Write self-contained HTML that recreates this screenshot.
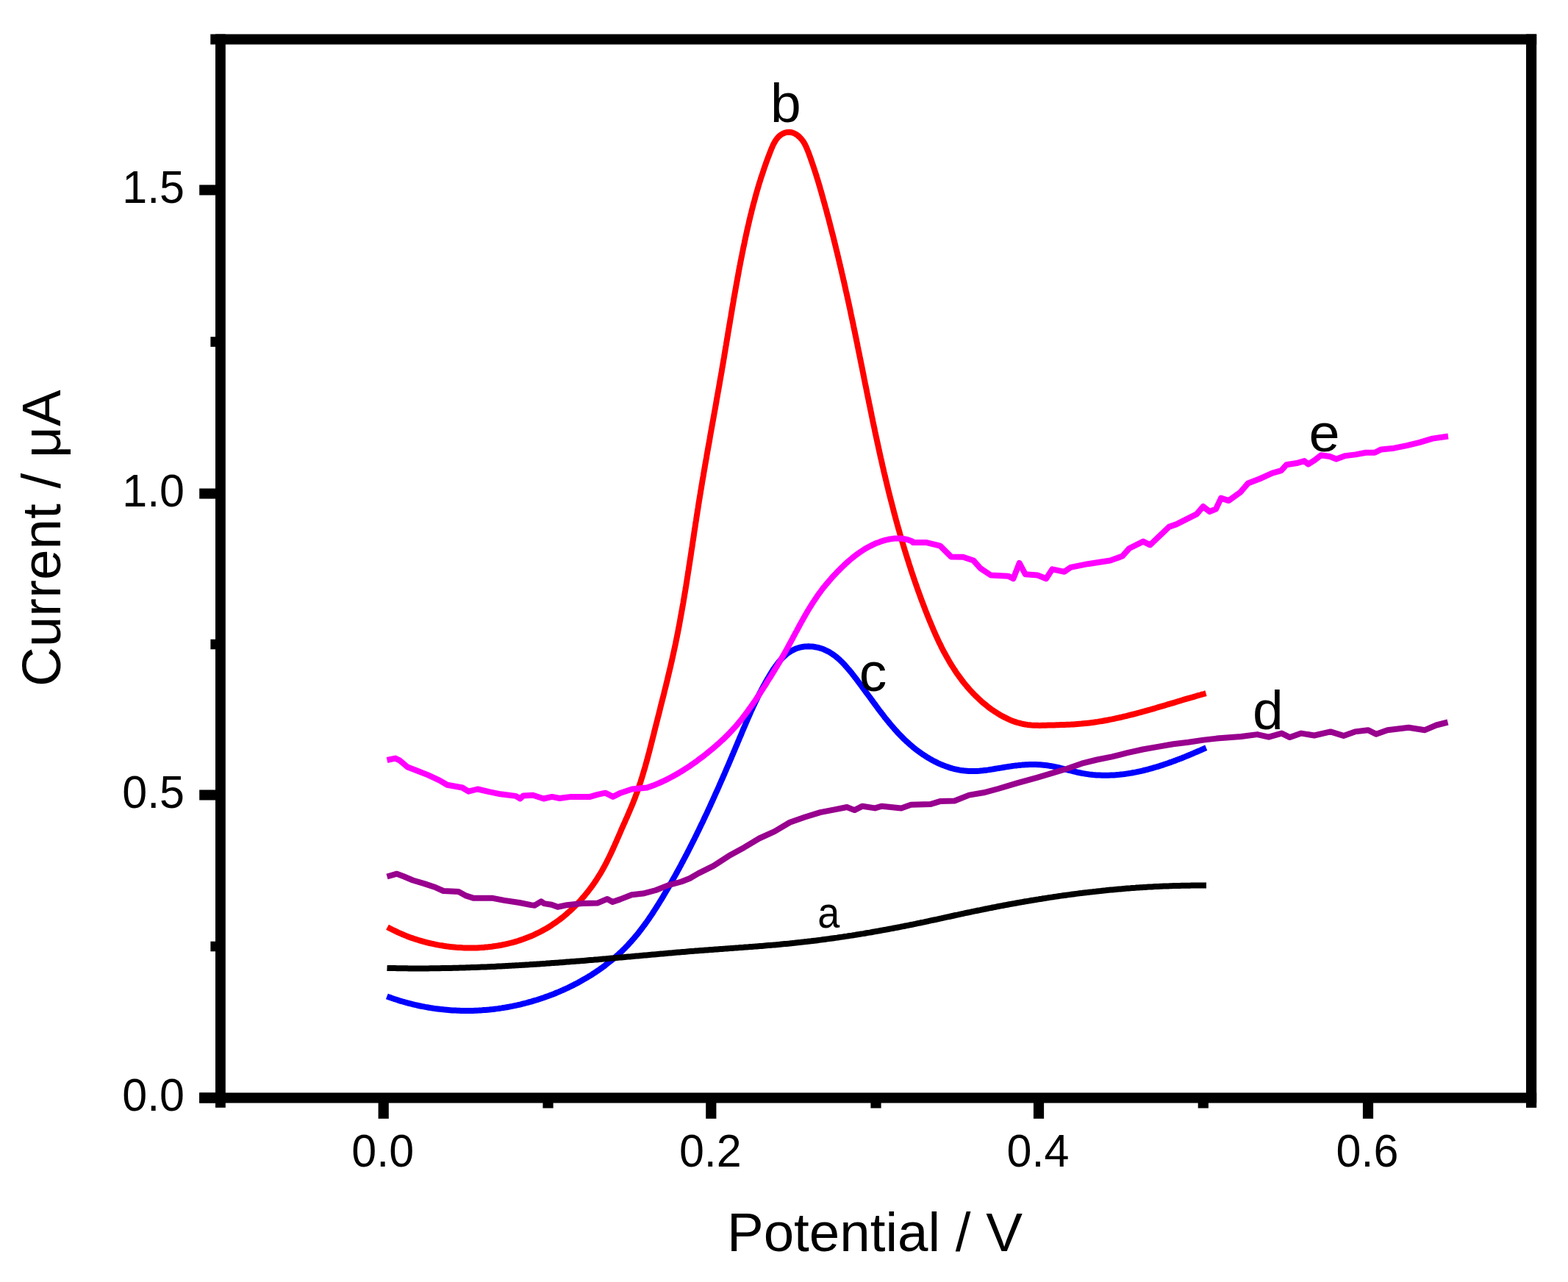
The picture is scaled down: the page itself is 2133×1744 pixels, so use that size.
<!DOCTYPE html>
<html><head><meta charset="utf-8"><title>Current vs Potential</title>
<style>html,body{margin:0;padding:0;background:#fff;width:2133px;height:1744px;overflow:hidden}svg{display:block}</style>
</head><body>
<svg width="2133" height="1744" viewBox="0 0 2133 1744">
<rect width="2133" height="1744" fill="#fff"/>
<g fill="none" stroke-width="8" stroke-linejoin="round" stroke-linecap="butt">
<path stroke="#0000ff" d="M526.3,1355.4 L528.7,1356.3 L531.0,1357.1 L533.4,1358.0 L535.8,1358.8 L538.1,1359.5 L540.5,1360.3 L542.9,1361.1 L545.2,1361.8 L547.6,1362.5 L550.0,1363.2 L552.4,1363.8 L554.7,1364.5 L557.1,1365.1 L559.5,1365.7 L561.9,1366.3 L564.3,1366.9 L566.7,1367.4 L569.1,1368.0 L571.5,1368.5 L573.9,1369.0 L576.3,1369.4 L578.7,1369.9 L581.1,1370.3 L583.5,1370.7 L585.9,1371.1 L588.3,1371.5 L590.7,1371.9 L593.1,1372.2 L595.5,1372.5 L597.9,1372.8 L600.3,1373.1 L602.8,1373.3 L605.2,1373.6 L607.6,1373.8 L610.0,1374.0 L612.4,1374.2 L614.8,1374.4 L617.2,1374.5 L619.7,1374.6 L622.1,1374.7 L624.5,1374.8 L626.9,1374.9 L629.3,1375.0 L631.7,1375.0 L634.1,1375.0 L636.6,1375.0 L639.0,1375.0 L641.4,1374.9 L643.8,1374.9 L646.2,1374.8 L648.6,1374.7 L651.0,1374.6 L653.4,1374.4 L655.8,1374.3 L658.2,1374.1 L660.7,1373.9 L663.1,1373.7 L665.5,1373.5 L667.9,1373.2 L670.3,1373.0 L672.7,1372.7 L675.1,1372.4 L677.4,1372.1 L679.8,1371.7 L682.2,1371.4 L684.6,1371.0 L687.0,1370.6 L689.4,1370.2 L691.8,1369.8 L694.1,1369.3 L696.5,1368.9 L698.9,1368.4 L701.3,1367.9 L703.6,1367.4 L706.0,1366.8 L708.4,1366.3 L710.7,1365.7 L713.1,1365.1 L715.4,1364.5 L717.8,1363.9 L720.1,1363.2 L722.5,1362.6 L724.8,1361.9 L727.1,1361.2 L729.5,1360.5 L731.8,1359.8 L734.1,1359.0 L736.5,1358.2 L738.8,1357.5 L741.1,1356.6 L743.4,1355.8 L745.7,1355.0 L748.0,1354.1 L750.3,1353.3 L752.6,1352.4 L754.9,1351.5 L757.1,1350.5 L759.4,1349.6 L761.7,1348.6 L763.9,1347.6 L766.2,1346.7 L768.4,1345.6 L770.7,1344.6 L772.9,1343.6 L775.1,1342.5 L777.3,1341.4 L779.5,1340.3 L781.7,1339.2 L783.9,1338.1 L786.1,1336.9 L788.2,1335.7 L790.4,1334.5 L792.5,1333.3 L794.7,1332.1 L796.8,1330.9 L798.9,1329.6 L801.0,1328.3 L803.1,1327.1 L805.2,1325.8 L807.2,1324.4 L809.3,1323.1 L811.3,1321.7 L813.4,1320.3 L815.4,1319.0 L817.4,1317.5 L819.4,1316.1 L821.3,1314.7 L823.3,1313.2 L825.2,1311.7 L827.1,1310.2 L829.0,1308.7 L830.9,1307.2 L832.8,1305.6 L834.7,1304.1 L836.5,1302.5 L838.3,1300.9 L840.2,1299.3 L841.9,1297.7 L843.7,1296.0 L845.5,1294.4 L847.2,1292.7 L848.9,1291.0 L850.6,1289.3 L852.3,1287.5 L854.0,1285.8 L855.6,1284.0 L857.2,1282.2 L858.9,1280.4 L860.4,1278.6 L862.0,1276.8 L863.6,1275.0 L865.1,1273.1 L866.7,1271.3 L868.2,1269.4 L869.7,1267.5 L871.2,1265.6 L872.6,1263.7 L874.1,1261.8 L875.5,1259.8 L877.0,1257.9 L878.4,1255.9 L879.8,1254.0 L881.2,1252.0 L882.6,1250.0 L883.9,1248.0 L885.3,1246.0 L886.7,1244.0 L888.0,1242.0 L889.3,1239.9 L890.6,1237.9 L892.0,1235.8 L893.3,1233.8 L894.6,1231.7 L895.8,1229.7 L897.1,1227.6 L898.4,1225.5 L899.7,1223.5 L900.9,1221.4 L902.2,1219.3 L903.4,1217.2 L904.7,1215.1 L905.9,1213.0 L907.1,1210.9 L908.4,1208.8 L909.6,1206.7 L910.8,1204.6 L912.0,1202.5 L913.2,1200.3 L914.4,1198.2 L915.6,1196.1 L916.8,1194.0 L918.0,1191.8 L919.2,1189.7 L920.4,1187.6 L921.5,1185.4 L922.7,1183.3 L923.9,1181.2 L925.0,1179.0 L926.2,1176.9 L927.3,1174.7 L928.5,1172.6 L929.6,1170.4 L930.8,1168.2 L931.9,1166.1 L933.0,1163.9 L934.2,1161.8 L935.3,1159.6 L936.4,1157.4 L937.5,1155.2 L938.6,1153.1 L939.7,1150.9 L940.8,1148.7 L941.9,1146.5 L943.0,1144.4 L944.1,1142.2 L945.2,1140.0 L946.3,1137.8 L947.4,1135.6 L948.4,1133.4 L949.5,1131.2 L950.6,1129.0 L951.6,1126.8 L952.7,1124.6 L953.7,1122.4 L954.8,1120.2 L955.9,1118.0 L956.9,1115.8 L957.9,1113.6 L959.0,1111.4 L960.0,1109.2 L961.1,1107.0 L962.1,1104.8 L963.1,1102.6 L964.1,1100.4 L965.2,1098.2 L966.2,1096.0 L967.2,1093.7 L968.2,1091.5 L969.2,1089.3 L970.2,1087.1 L971.2,1084.9 L972.2,1082.7 L973.2,1080.4 L974.2,1078.2 L975.2,1076.0 L976.2,1073.8 L977.2,1071.5 L978.2,1069.3 L979.1,1067.1 L980.1,1064.9 L981.1,1062.7 L982.1,1060.4 L983.1,1058.2 L984.0,1056.0 L985.0,1053.8 L986.0,1051.5 L986.9,1049.3 L987.9,1047.1 L988.8,1044.8 L989.8,1042.6 L990.8,1040.4 L991.7,1038.2 L992.7,1035.9 L993.6,1033.7 L994.6,1031.5 L995.5,1029.3 L996.4,1027.0 L997.4,1024.8 L998.3,1022.6 L999.3,1020.4 L1000.2,1018.1 L1001.1,1015.9 L1002.1,1013.7 L1003.0,1011.5 L1003.9,1009.3 L1004.9,1007.0 L1005.8,1004.8 L1006.7,1002.6 L1007.7,1000.4 L1008.6,998.2 L1009.5,995.9 L1010.4,993.7 L1011.4,991.5 L1012.3,989.3 L1013.3,987.1 L1014.2,984.9 L1015.1,982.7 L1016.1,980.5 L1017.1,978.2 L1018.0,976.0 L1019.0,973.8 L1020.0,971.6 L1020.9,969.4 L1021.9,967.2 L1022.9,965.0 L1023.9,962.8 L1024.9,960.6 L1026.0,958.4 L1027.0,956.3 L1028.0,954.1 L1029.1,951.9 L1030.2,949.7 L1031.2,947.5 L1032.3,945.3 L1033.4,943.1 L1034.6,941.0 L1035.7,938.8 L1036.8,936.6 L1038.0,934.4 L1039.2,932.3 L1040.4,930.1 L1041.6,927.9 L1042.8,925.8 L1044.0,923.6 L1045.3,921.5 L1046.6,919.3 L1047.9,917.2 L1049.2,915.0 L1050.5,912.9 L1051.9,910.8 L1053.3,908.7 L1054.8,906.6 L1056.3,904.6 L1057.8,902.6 L1059.3,900.7 L1060.9,898.8 L1062.6,896.9 L1064.3,895.2 L1066.1,893.4 L1067.9,891.8 L1069.7,890.2 L1071.6,888.7 L1073.6,887.3 L1075.6,886.0 L1077.6,884.8 L1079.7,883.8 L1081.8,882.8 L1084.0,882.0 L1086.2,881.3 L1088.4,880.7 L1090.7,880.2 L1093.0,879.8 L1095.3,879.6 L1097.6,879.4 L1099.9,879.3 L1102.2,879.4 L1104.5,879.6 L1106.8,879.8 L1109.1,880.2 L1111.4,880.6 L1113.7,881.2 L1116.0,881.8 L1118.2,882.5 L1120.4,883.3 L1122.6,884.3 L1124.7,885.3 L1126.8,886.3 L1128.9,887.5 L1130.9,888.8 L1132.8,890.1 L1134.8,891.5 L1136.7,892.9 L1138.5,894.4 L1140.4,896.0 L1142.2,897.6 L1144.0,899.3 L1145.7,901.0 L1147.4,902.8 L1149.1,904.6 L1150.8,906.5 L1152.4,908.4 L1154.1,910.3 L1155.7,912.2 L1157.3,914.1 L1158.9,916.1 L1160.4,918.1 L1162.0,920.1 L1163.5,922.1 L1165.1,924.1 L1166.6,926.1 L1168.1,928.1 L1169.6,930.1 L1171.1,932.1 L1172.6,934.1 L1174.0,936.1 L1175.5,938.1 L1177.0,940.1 L1178.4,942.1 L1179.9,944.1 L1181.4,946.1 L1182.8,948.0 L1184.3,950.0 L1185.7,952.0 L1187.2,954.0 L1188.6,956.0 L1190.1,957.9 L1191.5,959.9 L1193.0,961.9 L1194.4,963.8 L1195.9,965.8 L1197.3,967.7 L1198.8,969.6 L1200.3,971.6 L1201.8,973.5 L1203.2,975.4 L1204.7,977.3 L1206.2,979.1 L1207.8,981.0 L1209.3,982.9 L1210.8,984.7 L1212.3,986.5 L1213.9,988.4 L1215.5,990.2 L1217.0,992.0 L1218.6,993.7 L1220.2,995.5 L1221.8,997.3 L1223.5,999.0 L1225.1,1000.7 L1226.8,1002.4 L1228.5,1004.1 L1230.2,1005.8 L1231.9,1007.4 L1233.6,1009.0 L1235.4,1010.6 L1237.2,1012.2 L1239.0,1013.8 L1240.8,1015.3 L1242.6,1016.9 L1244.5,1018.4 L1246.4,1019.9 L1248.3,1021.3 L1250.3,1022.7 L1252.2,1024.2 L1254.2,1025.5 L1256.2,1026.9 L1258.3,1028.2 L1260.4,1029.6 L1262.4,1030.8 L1264.6,1032.1 L1266.7,1033.3 L1268.8,1034.5 L1271.0,1035.6 L1273.2,1036.7 L1275.4,1037.8 L1277.6,1038.8 L1279.9,1039.8 L1282.1,1040.7 L1284.4,1041.6 L1286.7,1042.5 L1289.0,1043.3 L1291.3,1044.1 L1293.7,1044.8 L1296.0,1045.5 L1298.3,1046.1 L1300.7,1046.6 L1303.1,1047.1 L1305.5,1047.6 L1307.9,1048.0 L1310.2,1048.3 L1312.6,1048.6 L1315.1,1048.8 L1317.5,1049.0 L1319.9,1049.1 L1322.3,1049.1 L1324.7,1049.1 L1327.2,1049.0 L1329.6,1048.9 L1332.0,1048.8 L1334.5,1048.5 L1336.9,1048.3 L1339.3,1048.0 L1341.8,1047.7 L1344.2,1047.4 L1346.7,1047.0 L1349.1,1046.6 L1351.6,1046.2 L1354.0,1045.8 L1356.5,1045.4 L1358.9,1045.0 L1361.3,1044.6 L1363.8,1044.2 L1366.2,1043.8 L1368.7,1043.4 L1371.1,1043.0 L1373.5,1042.6 L1376.0,1042.3 L1378.4,1041.9 L1380.8,1041.6 L1383.2,1041.4 L1385.7,1041.1 L1388.1,1040.9 L1390.5,1040.6 L1392.9,1040.5 L1395.3,1040.3 L1397.8,1040.2 L1400.2,1040.1 L1402.6,1040.0 L1405.0,1040.0 L1407.4,1040.0 L1409.8,1040.1 L1412.2,1040.2 L1414.6,1040.3 L1417.0,1040.5 L1419.4,1040.7 L1421.8,1040.9 L1424.2,1041.2 L1426.6,1041.6 L1429.0,1042.0 L1431.4,1042.4 L1433.9,1042.9 L1436.3,1043.4 L1438.7,1043.9 L1441.1,1044.5 L1443.5,1045.1 L1445.8,1045.7 L1448.2,1046.3 L1450.6,1046.9 L1453.0,1047.5 L1455.4,1048.1 L1457.8,1048.7 L1460.2,1049.3 L1462.7,1049.9 L1465.1,1050.5 L1467.5,1051.0 L1469.9,1051.5 L1472.3,1052.0 L1474.7,1052.4 L1477.1,1052.8 L1479.5,1053.1 L1481.9,1053.5 L1484.3,1053.7 L1486.7,1054.0 L1489.1,1054.2 L1491.5,1054.4 L1493.9,1054.5 L1496.3,1054.6 L1498.7,1054.7 L1501.1,1054.8 L1503.5,1054.8 L1505.9,1054.8 L1508.3,1054.7 L1510.7,1054.6 L1513.1,1054.5 L1515.5,1054.4 L1517.9,1054.2 L1520.3,1054.0 L1522.7,1053.8 L1525.1,1053.5 L1527.5,1053.3 L1529.9,1053.0 L1532.3,1052.6 L1534.7,1052.3 L1537.1,1051.9 L1539.5,1051.5 L1541.8,1051.0 L1544.2,1050.6 L1546.6,1050.1 L1549.0,1049.6 L1551.4,1049.1 L1553.7,1048.6 L1556.1,1048.0 L1558.5,1047.4 L1560.8,1046.8 L1563.2,1046.2 L1565.5,1045.5 L1567.9,1044.9 L1570.2,1044.2 L1572.6,1043.5 L1574.9,1042.8 L1577.2,1042.1 L1579.6,1041.3 L1581.9,1040.6 L1584.2,1039.8 L1586.6,1039.0 L1588.9,1038.2 L1591.2,1037.4 L1593.5,1036.6 L1595.8,1035.7 L1598.1,1034.9 L1600.4,1034.0 L1602.7,1033.1 L1605.0,1032.3 L1607.3,1031.4 L1609.5,1030.5 L1611.8,1029.6 L1614.1,1028.6 L1616.3,1027.7 L1618.6,1026.8 L1620.8,1025.8 L1623.1,1024.9 L1625.3,1023.9 L1627.5,1023.0 L1629.8,1022.0 L1632.0,1021.1 L1634.2,1020.1 L1636.4,1019.1 L1638.6,1018.1 L1640.8,1017.2"/>
<path stroke="#ff0000" d="M527.0,1261.2 L529.4,1262.5 L531.9,1263.8 L534.3,1265.0 L536.8,1266.2 L539.3,1267.4 L541.8,1268.6 L544.3,1269.7 L546.9,1270.8 L549.5,1271.9 L552.0,1272.9 L554.6,1273.9 L557.3,1274.9 L559.9,1275.9 L562.5,1276.8 L565.2,1277.7 L567.9,1278.5 L570.6,1279.3 L573.3,1280.1 L576.0,1280.9 L578.7,1281.6 L581.4,1282.3 L584.2,1283.0 L587.0,1283.6 L589.7,1284.2 L592.5,1284.8 L595.3,1285.4 L598.1,1285.9 L600.9,1286.3 L603.7,1286.8 L606.5,1287.2 L609.3,1287.6 L612.1,1287.9 L615.0,1288.2 L617.8,1288.5 L620.6,1288.8 L623.5,1289.0 L626.3,1289.1 L629.2,1289.3 L632.0,1289.4 L634.9,1289.5 L637.7,1289.5 L640.5,1289.5 L643.4,1289.5 L646.2,1289.4 L649.1,1289.4 L651.9,1289.2 L654.7,1289.1 L657.6,1288.9 L660.4,1288.6 L663.2,1288.4 L666.0,1288.0 L668.9,1287.7 L671.7,1287.3 L674.5,1286.9 L677.2,1286.5 L680.0,1286.0 L682.8,1285.5 L685.6,1284.9 L688.3,1284.3 L691.1,1283.7 L693.8,1283.0 L696.5,1282.3 L699.2,1281.6 L701.9,1280.8 L704.6,1280.0 L707.3,1279.1 L709.9,1278.2 L712.6,1277.3 L715.2,1276.3 L717.8,1275.3 L720.4,1274.3 L723.0,1273.2 L725.6,1272.1 L728.1,1270.9 L730.6,1269.7 L733.1,1268.5 L735.6,1267.2 L738.1,1265.9 L740.5,1264.6 L743.0,1263.2 L745.4,1261.8 L747.7,1260.3 L750.1,1258.8 L752.4,1257.2 L754.7,1255.7 L757.0,1254.1 L759.3,1252.4 L761.6,1250.7 L763.8,1249.0 L766.0,1247.3 L768.2,1245.5 L770.3,1243.7 L772.4,1241.8 L774.5,1240.0 L776.6,1238.1 L778.7,1236.1 L780.7,1234.2 L782.7,1232.2 L784.7,1230.2 L786.6,1228.1 L788.6,1226.1 L790.5,1224.0 L792.3,1221.8 L794.2,1219.7 L796.0,1217.5 L797.8,1215.3 L799.6,1213.1 L801.3,1210.9 L803.0,1208.6 L804.7,1206.3 L806.4,1204.0 L808.0,1201.7 L809.6,1199.4 L811.2,1197.0 L812.7,1194.6 L814.2,1192.2 L815.7,1189.8 L817.2,1187.4 L818.6,1185.0 L820.0,1182.5 L821.4,1180.0 L822.7,1177.6 L824.0,1175.1 L825.3,1172.6 L826.6,1170.0 L827.8,1167.5 L829.1,1165.0 L830.3,1162.4 L831.5,1159.9 L832.7,1157.3 L833.9,1154.7 L835.0,1152.2 L836.2,1149.6 L837.3,1147.0 L838.5,1144.4 L839.6,1141.8 L840.7,1139.3 L841.8,1136.7 L843.0,1134.1 L844.1,1131.5 L845.2,1128.9 L846.3,1126.3 L847.5,1123.7 L848.6,1121.2 L849.8,1118.6 L850.9,1116.0 L852.0,1113.4 L853.2,1110.9 L854.3,1108.3 L855.4,1105.7 L856.5,1103.1 L857.6,1100.5 L858.7,1098.0 L859.8,1095.4 L860.9,1092.8 L861.9,1090.1 L862.9,1087.5 L864.0,1084.9 L864.9,1082.3 L865.9,1079.6 L866.9,1077.0 L867.8,1074.3 L868.7,1071.7 L869.6,1069.0 L870.5,1066.4 L871.4,1063.7 L872.2,1061.0 L873.1,1058.3 L873.9,1055.6 L874.7,1052.9 L875.5,1050.2 L876.3,1047.5 L877.1,1044.8 L877.9,1042.1 L878.6,1039.4 L879.4,1036.7 L880.2,1033.9 L880.9,1031.2 L881.6,1028.5 L882.3,1025.8 L883.1,1023.0 L883.8,1020.3 L884.5,1017.6 L885.2,1014.8 L885.9,1012.1 L886.6,1009.3 L887.3,1006.6 L888.0,1003.8 L888.7,1001.1 L889.4,998.4 L890.0,995.6 L890.7,992.9 L891.4,990.1 L892.1,987.4 L892.8,984.7 L893.5,981.9 L894.2,979.2 L894.9,976.4 L895.6,973.7 L896.3,971.0 L897.0,968.2 L897.7,965.5 L898.3,962.8 L899.0,960.0 L899.7,957.3 L900.4,954.6 L901.1,951.8 L901.8,949.1 L902.5,946.4 L903.2,943.6 L903.8,940.9 L904.5,938.1 L905.2,935.4 L905.9,932.7 L906.5,929.9 L907.2,927.2 L907.9,924.5 L908.5,921.7 L909.2,919.0 L909.8,916.2 L910.5,913.5 L911.1,910.8 L911.8,908.0 L912.4,905.3 L913.0,902.5 L913.7,899.8 L914.3,897.0 L914.9,894.3 L915.5,891.5 L916.1,888.8 L916.7,886.0 L917.3,883.3 L917.9,880.5 L918.5,877.8 L919.1,875.0 L919.6,872.3 L920.2,869.5 L920.8,866.7 L921.3,864.0 L921.9,861.2 L922.4,858.5 L922.9,855.7 L923.5,852.9 L924.0,850.2 L924.5,847.4 L925.0,844.6 L925.5,841.8 L926.0,839.1 L926.5,836.3 L927.0,833.5 L927.5,830.7 L928.0,828.0 L928.5,825.2 L929.0,822.4 L929.5,819.6 L929.9,816.9 L930.4,814.1 L930.9,811.3 L931.3,808.5 L931.8,805.7 L932.3,802.9 L932.7,800.2 L933.2,797.4 L933.6,794.6 L934.1,791.8 L934.5,789.0 L934.9,786.2 L935.4,783.4 L935.8,780.6 L936.2,777.9 L936.7,775.1 L937.1,772.3 L937.5,769.5 L938.0,766.7 L938.4,763.9 L938.8,761.1 L939.3,758.3 L939.7,755.5 L940.1,752.7 L940.5,750.0 L940.9,747.2 L941.4,744.4 L941.8,741.6 L942.2,738.8 L942.6,736.0 L943.1,733.2 L943.5,730.4 L943.9,727.6 L944.3,724.8 L944.7,722.0 L945.2,719.3 L945.6,716.5 L946.0,713.7 L946.4,710.9 L946.9,708.1 L947.3,705.3 L947.7,702.5 L948.2,699.7 L948.6,696.9 L949.0,694.2 L949.5,691.4 L949.9,688.6 L950.3,685.8 L950.8,683.0 L951.2,680.2 L951.7,677.5 L952.1,674.7 L952.6,671.9 L953.0,669.1 L953.5,666.3 L954.0,663.5 L954.4,660.8 L954.9,658.0 L955.3,655.2 L955.8,652.4 L956.3,649.7 L956.8,646.9 L957.2,644.1 L957.7,641.3 L958.2,638.6 L958.7,635.8 L959.1,633.0 L959.6,630.2 L960.1,627.5 L960.6,624.7 L961.1,621.9 L961.5,619.1 L962.0,616.4 L962.5,613.6 L963.0,610.8 L963.5,608.0 L964.0,605.3 L964.5,602.5 L965.0,599.7 L965.5,596.9 L965.9,594.2 L966.4,591.4 L966.9,588.6 L967.4,585.9 L967.9,583.1 L968.4,580.3 L968.9,577.5 L969.4,574.8 L969.9,572.0 L970.4,569.2 L970.9,566.4 L971.4,563.7 L971.9,560.9 L972.4,558.1 L972.9,555.4 L973.4,552.6 L973.9,549.8 L974.4,547.0 L974.8,544.3 L975.3,541.5 L975.8,538.7 L976.3,535.9 L976.8,533.1 L977.3,530.4 L977.8,527.6 L978.3,524.8 L978.8,522.0 L979.2,519.3 L979.7,516.5 L980.2,513.7 L980.7,510.9 L981.2,508.1 L981.7,505.4 L982.1,502.6 L982.6,499.8 L983.1,497.0 L983.6,494.2 L984.0,491.4 L984.5,488.7 L985.0,485.9 L985.4,483.1 L985.9,480.3 L986.4,477.5 L986.8,474.7 L987.3,471.9 L987.8,469.1 L988.2,466.3 L988.7,463.6 L989.2,460.8 L989.6,458.0 L990.1,455.2 L990.5,452.4 L991.0,449.6 L991.5,446.8 L991.9,444.0 L992.4,441.2 L992.9,438.5 L993.3,435.7 L993.8,432.9 L994.3,430.1 L994.7,427.3 L995.2,424.5 L995.7,421.7 L996.1,418.9 L996.6,416.2 L997.1,413.4 L997.6,410.6 L998.0,407.8 L998.5,405.0 L999.0,402.2 L999.5,399.5 L1000.0,396.7 L1000.5,393.9 L1001.0,391.1 L1001.5,388.3 L1002.0,385.6 L1002.5,382.8 L1003.0,380.0 L1003.5,377.2 L1004.0,374.5 L1004.5,371.7 L1005.0,368.9 L1005.5,366.2 L1006.0,363.4 L1006.6,360.6 L1007.1,357.9 L1007.6,355.1 L1008.2,352.3 L1008.7,349.6 L1009.3,346.8 L1009.8,344.1 L1010.4,341.3 L1010.9,338.6 L1011.5,335.8 L1012.1,333.1 L1012.7,330.3 L1013.2,327.6 L1013.8,324.8 L1014.4,322.1 L1015.0,319.3 L1015.6,316.6 L1016.2,313.9 L1016.8,311.1 L1017.4,308.4 L1018.1,305.7 L1018.7,303.0 L1019.3,300.2 L1020.0,297.5 L1020.6,294.8 L1021.3,292.1 L1022.0,289.4 L1022.6,286.6 L1023.3,283.9 L1024.0,281.2 L1024.7,278.5 L1025.4,275.8 L1026.2,273.1 L1026.9,270.4 L1027.6,267.7 L1028.4,265.0 L1029.1,262.3 L1029.9,259.5 L1030.7,256.8 L1031.5,254.1 L1032.3,251.4 L1033.1,248.7 L1034.0,246.0 L1034.8,243.3 L1035.7,240.6 L1036.6,237.9 L1037.5,235.2 L1038.4,232.5 L1039.3,229.8 L1040.2,227.1 L1041.2,224.3 L1042.1,221.6 L1043.1,218.9 L1044.1,216.2 L1045.1,213.5 L1046.2,210.8 L1047.2,208.0 L1048.3,205.3 L1049.4,202.6 L1050.5,199.9 L1051.7,197.2 L1053.0,194.7 L1054.4,192.2 L1055.9,189.9 L1057.5,187.8 L1059.4,185.8 L1061.4,184.0 L1063.6,182.5 L1066.0,181.3 L1068.4,180.4 L1071.0,179.9 L1073.5,179.7 L1076.0,180.0 L1078.5,180.6 L1080.9,181.6 L1083.3,183.0 L1085.5,184.6 L1087.6,186.4 L1089.6,188.5 L1091.4,190.7 L1093.1,193.1 L1094.6,195.6 L1095.9,198.2 L1097.1,200.9 L1098.2,203.5 L1099.3,206.2 L1100.3,208.9 L1101.3,211.6 L1102.3,214.3 L1103.2,217.0 L1104.2,219.7 L1105.1,222.4 L1106.0,225.1 L1106.9,227.8 L1107.8,230.5 L1108.7,233.2 L1109.6,235.9 L1110.4,238.5 L1111.2,241.2 L1112.1,243.9 L1112.9,246.6 L1113.7,249.3 L1114.5,252.0 L1115.3,254.7 L1116.0,257.3 L1116.8,260.0 L1117.6,262.7 L1118.3,265.4 L1119.1,268.1 L1119.8,270.8 L1120.6,273.5 L1121.3,276.2 L1122.1,278.9 L1122.8,281.6 L1123.6,284.3 L1124.3,287.0 L1125.0,289.7 L1125.7,292.4 L1126.5,295.1 L1127.2,297.9 L1127.9,300.6 L1128.6,303.3 L1129.3,306.0 L1130.0,308.7 L1130.7,311.4 L1131.4,314.2 L1132.1,316.9 L1132.8,319.6 L1133.5,322.3 L1134.2,325.1 L1134.8,327.8 L1135.5,330.5 L1136.2,333.3 L1136.9,336.0 L1137.5,338.7 L1138.2,341.5 L1138.9,344.2 L1139.5,346.9 L1140.2,349.7 L1140.8,352.4 L1141.5,355.2 L1142.1,357.9 L1142.8,360.6 L1143.4,363.4 L1144.1,366.1 L1144.7,368.9 L1145.3,371.6 L1146.0,374.4 L1146.6,377.1 L1147.2,379.9 L1147.9,382.6 L1148.5,385.4 L1149.1,388.1 L1149.7,390.9 L1150.3,393.6 L1150.9,396.4 L1151.6,399.2 L1152.2,401.9 L1152.8,404.7 L1153.4,407.4 L1154.0,410.2 L1154.6,412.9 L1155.2,415.7 L1155.8,418.5 L1156.4,421.2 L1157.0,424.0 L1157.5,426.8 L1158.1,429.5 L1158.7,432.3 L1159.3,435.0 L1159.9,437.8 L1160.5,440.6 L1161.0,443.3 L1161.6,446.1 L1162.2,448.9 L1162.8,451.6 L1163.3,454.4 L1163.9,457.2 L1164.5,459.9 L1165.0,462.7 L1165.6,465.5 L1166.2,468.2 L1166.7,471.0 L1167.3,473.8 L1167.8,476.5 L1168.4,479.3 L1169.0,482.1 L1169.5,484.8 L1170.1,487.6 L1170.6,490.4 L1171.2,493.1 L1171.7,495.9 L1172.3,498.7 L1172.9,501.4 L1173.4,504.2 L1174.0,507.0 L1174.5,509.7 L1175.1,512.5 L1175.6,515.3 L1176.2,518.0 L1176.7,520.8 L1177.3,523.6 L1177.9,526.3 L1178.4,529.1 L1179.0,531.9 L1179.5,534.6 L1180.1,537.4 L1180.6,540.2 L1181.2,542.9 L1181.8,545.7 L1182.3,548.5 L1182.9,551.2 L1183.5,554.0 L1184.0,556.7 L1184.6,559.5 L1185.2,562.3 L1185.7,565.0 L1186.3,567.8 L1186.9,570.6 L1187.4,573.3 L1188.0,576.1 L1188.6,578.8 L1189.2,581.6 L1189.8,584.4 L1190.3,587.1 L1190.9,589.9 L1191.5,592.6 L1192.1,595.4 L1192.7,598.1 L1193.3,600.9 L1193.9,603.6 L1194.5,606.4 L1195.1,609.1 L1195.7,611.9 L1196.3,614.7 L1196.9,617.4 L1197.5,620.2 L1198.1,622.9 L1198.8,625.6 L1199.4,628.4 L1200.0,631.1 L1200.6,633.9 L1201.3,636.6 L1201.9,639.4 L1202.5,642.1 L1203.2,644.9 L1203.8,647.6 L1204.5,650.3 L1205.1,653.1 L1205.8,655.8 L1206.4,658.5 L1207.1,661.3 L1207.8,664.0 L1208.4,666.7 L1209.1,669.5 L1209.8,672.2 L1210.5,674.9 L1211.2,677.7 L1211.9,680.4 L1212.6,683.1 L1213.3,685.9 L1214.0,688.6 L1214.7,691.3 L1215.4,694.0 L1216.1,696.7 L1216.8,699.5 L1217.6,702.2 L1218.3,704.9 L1219.0,707.6 L1219.8,710.3 L1220.5,713.0 L1221.3,715.8 L1222.0,718.5 L1222.8,721.2 L1223.6,723.9 L1224.3,726.6 L1225.1,729.3 L1225.9,732.0 L1226.7,734.7 L1227.5,737.4 L1228.3,740.1 L1229.1,742.8 L1229.9,745.5 L1230.7,748.2 L1231.6,750.9 L1232.4,753.6 L1233.2,756.3 L1234.1,759.0 L1234.9,761.6 L1235.8,764.3 L1236.6,767.0 L1237.5,769.7 L1238.4,772.4 L1239.2,775.1 L1240.1,777.7 L1241.0,780.4 L1241.9,783.1 L1242.8,785.8 L1243.7,788.4 L1244.6,791.1 L1245.6,793.8 L1246.5,796.4 L1247.4,799.1 L1248.4,801.8 L1249.3,804.4 L1250.3,807.1 L1251.3,809.8 L1252.2,812.4 L1253.2,815.1 L1254.2,817.7 L1255.2,820.4 L1256.2,823.0 L1257.2,825.7 L1258.2,828.3 L1259.2,831.0 L1260.3,833.6 L1261.3,836.2 L1262.4,838.9 L1263.4,841.5 L1264.5,844.1 L1265.6,846.8 L1266.7,849.4 L1267.8,852.0 L1268.9,854.6 L1270.0,857.2 L1271.1,859.8 L1272.3,862.4 L1273.4,865.0 L1274.6,867.5 L1275.8,870.1 L1277.0,872.7 L1278.2,875.2 L1279.5,877.7 L1280.7,880.3 L1282.0,882.8 L1283.3,885.3 L1284.6,887.8 L1286.0,890.2 L1287.3,892.7 L1288.7,895.1 L1290.1,897.6 L1291.5,900.0 L1292.9,902.4 L1294.4,904.8 L1295.9,907.1 L1297.4,909.5 L1298.9,911.8 L1300.4,914.2 L1302.0,916.5 L1303.6,918.7 L1305.3,921.0 L1306.9,923.2 L1308.6,925.5 L1310.3,927.7 L1312.0,929.9 L1313.8,932.0 L1315.6,934.1 L1317.4,936.3 L1319.3,938.4 L1321.2,940.4 L1323.1,942.5 L1325.0,944.5 L1327.0,946.5 L1329.0,948.4 L1331.1,950.4 L1333.1,952.3 L1335.2,954.2 L1337.4,956.1 L1339.6,957.9 L1341.8,959.7 L1344.0,961.5 L1346.3,963.2 L1348.7,964.9 L1351.0,966.5 L1353.4,968.2 L1355.8,969.7 L1358.2,971.2 L1360.7,972.7 L1363.2,974.1 L1365.7,975.4 L1368.3,976.7 L1370.8,977.9 L1373.4,979.1 L1376.0,980.2 L1378.7,981.2 L1381.3,982.1 L1384.0,983.0 L1386.7,983.7 L1389.4,984.4 L1392.1,985.0 L1394.9,985.5 L1397.6,985.9 L1400.4,986.2 L1403.2,986.5 L1406.0,986.7 L1408.8,986.8 L1411.6,986.8 L1414.4,986.9 L1417.2,986.8 L1420.1,986.8 L1422.9,986.7 L1425.7,986.6 L1428.6,986.5 L1431.4,986.4 L1434.3,986.4 L1437.1,986.3 L1439.9,986.2 L1442.8,986.1 L1445.6,986.0 L1448.4,985.9 L1451.3,985.8 L1454.1,985.7 L1456.9,985.6 L1459.7,985.4 L1462.6,985.2 L1465.4,985.0 L1468.2,984.8 L1471.0,984.6 L1473.8,984.3 L1476.6,984.0 L1479.4,983.7 L1482.2,983.4 L1485.0,983.1 L1487.8,982.7 L1490.6,982.3 L1493.3,981.9 L1496.1,981.4 L1498.9,981.0 L1501.7,980.5 L1504.4,980.0 L1507.2,979.5 L1510.0,978.9 L1512.7,978.4 L1515.5,977.8 L1518.2,977.2 L1521.0,976.6 L1523.7,976.0 L1526.5,975.4 L1529.2,974.7 L1531.9,974.1 L1534.7,973.4 L1537.4,972.7 L1540.2,972.0 L1542.9,971.3 L1545.6,970.6 L1548.3,969.9 L1551.1,969.2 L1553.8,968.4 L1556.5,967.7 L1559.2,966.9 L1562.0,966.1 L1564.7,965.4 L1567.4,964.6 L1570.1,963.8 L1572.8,963.0 L1575.5,962.2 L1578.2,961.4 L1581.0,960.6 L1583.7,959.8 L1586.4,959.0 L1589.1,958.2 L1591.8,957.4 L1594.5,956.6 L1597.2,955.8 L1599.9,955.0 L1602.6,954.2 L1605.3,953.3 L1608.0,952.5 L1610.7,951.7 L1613.4,950.9 L1616.1,950.1 L1618.8,949.3 L1621.5,948.6 L1624.3,947.8 L1627.0,947.0 L1629.7,946.2 L1632.4,945.5 L1635.1,944.7 L1637.8,944.0 L1640.5,943.2"/>
<path stroke="#000" d="M526.5,1316.9 L528.7,1317.0 L531.0,1317.0 L533.2,1317.1 L535.5,1317.1 L537.7,1317.1 L540.0,1317.2 L542.3,1317.2 L544.5,1317.2 L546.8,1317.3 L549.0,1317.3 L551.3,1317.3 L553.5,1317.3 L555.8,1317.4 L558.0,1317.4 L560.3,1317.4 L562.5,1317.4 L564.8,1317.4 L567.0,1317.4 L569.3,1317.4 L571.5,1317.4 L573.8,1317.4 L576.0,1317.4 L578.3,1317.4 L580.5,1317.4 L582.7,1317.4 L585.0,1317.3 L587.2,1317.3 L589.5,1317.3 L591.7,1317.3 L594.0,1317.2 L596.2,1317.2 L598.5,1317.2 L600.7,1317.1 L603.0,1317.1 L605.2,1317.1 L607.5,1317.0 L609.7,1317.0 L612.0,1316.9 L614.2,1316.9 L616.5,1316.8 L618.7,1316.8 L621.0,1316.7 L623.2,1316.7 L625.5,1316.6 L627.7,1316.5 L630.0,1316.5 L632.2,1316.4 L634.5,1316.3 L636.7,1316.3 L639.0,1316.2 L641.2,1316.1 L643.5,1316.1 L645.7,1316.0 L648.0,1315.9 L650.2,1315.8 L652.4,1315.7 L654.7,1315.6 L656.9,1315.5 L659.2,1315.4 L661.4,1315.4 L663.7,1315.3 L665.9,1315.2 L668.2,1315.1 L670.4,1315.0 L672.7,1314.9 L674.9,1314.7 L677.2,1314.6 L679.4,1314.5 L681.7,1314.4 L683.9,1314.3 L686.1,1314.2 L688.4,1314.1 L690.6,1314.0 L692.9,1313.8 L695.1,1313.7 L697.4,1313.6 L699.6,1313.5 L701.9,1313.3 L704.1,1313.2 L706.4,1313.1 L708.6,1312.9 L710.8,1312.8 L713.1,1312.7 L715.3,1312.5 L717.6,1312.4 L719.8,1312.3 L722.1,1312.1 L724.3,1312.0 L726.6,1311.8 L728.8,1311.7 L731.1,1311.5 L733.3,1311.4 L735.5,1311.2 L737.8,1311.1 L740.0,1310.9 L742.3,1310.8 L744.5,1310.6 L746.8,1310.5 L749.0,1310.3 L751.2,1310.1 L753.5,1310.0 L755.7,1309.8 L758.0,1309.7 L760.2,1309.5 L762.5,1309.3 L764.7,1309.2 L767.0,1309.0 L769.2,1308.8 L771.4,1308.6 L773.7,1308.5 L775.9,1308.3 L778.2,1308.1 L780.4,1308.0 L782.7,1307.8 L784.9,1307.6 L787.1,1307.4 L789.4,1307.2 L791.6,1307.1 L793.9,1306.9 L796.1,1306.7 L798.3,1306.5 L800.6,1306.3 L802.8,1306.1 L805.1,1305.9 L807.3,1305.8 L809.6,1305.6 L811.8,1305.4 L814.0,1305.2 L816.3,1305.0 L818.5,1304.8 L820.8,1304.6 L823.0,1304.4 L825.2,1304.2 L827.5,1304.0 L829.7,1303.8 L832.0,1303.6 L834.2,1303.4 L836.4,1303.2 L838.7,1303.0 L840.9,1302.8 L843.2,1302.6 L845.4,1302.4 L847.6,1302.2 L849.9,1302.0 L852.1,1301.8 L854.4,1301.6 L856.6,1301.4 L858.8,1301.2 L861.1,1301.0 L863.3,1300.8 L865.6,1300.6 L867.8,1300.4 L870.0,1300.2 L872.3,1300.0 L874.5,1299.8 L876.8,1299.6 L879.0,1299.4 L881.2,1299.2 L883.5,1299.0 L885.7,1298.8 L888.0,1298.6 L890.2,1298.4 L892.4,1298.2 L894.7,1298.0 L896.9,1297.8 L899.2,1297.6 L901.4,1297.4 L903.6,1297.2 L905.9,1297.0 L908.1,1296.8 L910.4,1296.6 L912.6,1296.4 L914.8,1296.2 L917.1,1296.0 L919.3,1295.8 L921.6,1295.6 L923.8,1295.4 L926.1,1295.2 L928.3,1295.0 L930.5,1294.9 L932.8,1294.7 L935.0,1294.5 L937.3,1294.3 L939.5,1294.1 L941.7,1293.9 L944.0,1293.8 L946.2,1293.6 L948.5,1293.4 L950.7,1293.2 L953.0,1293.0 L955.2,1292.9 L957.5,1292.7 L959.7,1292.5 L961.9,1292.4 L964.2,1292.2 L966.4,1292.0 L968.7,1291.9 L970.9,1291.7 L973.2,1291.5 L975.4,1291.4 L977.7,1291.2 L979.9,1291.0 L982.2,1290.9 L984.4,1290.7 L986.6,1290.6 L988.9,1290.4 L991.1,1290.2 L993.4,1290.1 L995.6,1289.9 L997.9,1289.7 L1000.1,1289.6 L1002.4,1289.4 L1004.6,1289.3 L1006.9,1289.1 L1009.1,1288.9 L1011.3,1288.8 L1013.6,1288.6 L1015.8,1288.4 L1018.1,1288.3 L1020.3,1288.1 L1022.6,1287.9 L1024.8,1287.7 L1027.1,1287.6 L1029.3,1287.4 L1031.5,1287.2 L1033.8,1287.0 L1036.0,1286.9 L1038.3,1286.7 L1040.5,1286.5 L1042.8,1286.3 L1045.0,1286.1 L1047.2,1285.9 L1049.5,1285.7 L1051.7,1285.6 L1054.0,1285.4 L1056.2,1285.2 L1058.4,1285.0 L1060.7,1284.8 L1062.9,1284.5 L1065.2,1284.3 L1067.4,1284.1 L1069.6,1283.9 L1071.9,1283.7 L1074.1,1283.5 L1076.4,1283.2 L1078.6,1283.0 L1080.8,1282.8 L1083.1,1282.5 L1085.3,1282.3 L1087.5,1282.1 L1089.8,1281.8 L1092.0,1281.6 L1094.2,1281.3 L1096.5,1281.1 L1098.7,1280.8 L1100.9,1280.5 L1103.2,1280.3 L1105.4,1280.0 L1107.6,1279.7 L1109.9,1279.5 L1112.1,1279.2 L1114.3,1278.9 L1116.5,1278.6 L1118.8,1278.3 L1121.0,1278.0 L1123.2,1277.7 L1125.4,1277.4 L1127.7,1277.1 L1129.9,1276.8 L1132.1,1276.5 L1134.3,1276.2 L1136.6,1275.9 L1138.8,1275.6 L1141.0,1275.2 L1143.2,1274.9 L1145.5,1274.6 L1147.7,1274.3 L1149.9,1273.9 L1152.1,1273.6 L1154.3,1273.2 L1156.6,1272.9 L1158.8,1272.6 L1161.0,1272.2 L1163.2,1271.9 L1165.4,1271.5 L1167.7,1271.1 L1169.9,1270.8 L1172.1,1270.4 L1174.3,1270.1 L1176.5,1269.7 L1178.7,1269.3 L1181.0,1268.9 L1183.2,1268.6 L1185.4,1268.2 L1187.6,1267.8 L1189.8,1267.4 L1192.0,1267.0 L1194.2,1266.6 L1196.4,1266.2 L1198.7,1265.8 L1200.9,1265.4 L1203.1,1265.0 L1205.3,1264.6 L1207.5,1264.2 L1209.7,1263.8 L1211.9,1263.4 L1214.1,1263.0 L1216.3,1262.5 L1218.5,1262.1 L1220.7,1261.7 L1223.0,1261.3 L1225.2,1260.8 L1227.4,1260.4 L1229.6,1260.0 L1231.8,1259.5 L1234.0,1259.1 L1236.2,1258.7 L1238.4,1258.2 L1240.6,1257.8 L1242.8,1257.3 L1245.0,1256.9 L1247.2,1256.4 L1249.4,1255.9 L1251.6,1255.5 L1253.8,1255.0 L1256.0,1254.6 L1258.2,1254.1 L1260.4,1253.6 L1262.6,1253.2 L1264.8,1252.7 L1267.0,1252.2 L1269.2,1251.7 L1271.4,1251.3 L1273.6,1250.8 L1275.8,1250.3 L1278.0,1249.8 L1280.2,1249.4 L1282.4,1248.9 L1284.6,1248.4 L1286.8,1247.9 L1289.0,1247.4 L1291.2,1247.0 L1293.4,1246.5 L1295.6,1246.0 L1297.8,1245.5 L1299.9,1245.0 L1302.1,1244.6 L1304.3,1244.1 L1306.5,1243.6 L1308.7,1243.1 L1310.9,1242.7 L1313.1,1242.2 L1315.3,1241.7 L1317.5,1241.3 L1319.7,1240.8 L1321.9,1240.3 L1324.1,1239.9 L1326.3,1239.4 L1328.5,1239.0 L1330.8,1238.5 L1333.0,1238.1 L1335.2,1237.6 L1337.4,1237.2 L1339.6,1236.7 L1341.8,1236.3 L1344.0,1235.8 L1346.2,1235.4 L1348.4,1235.0 L1350.6,1234.5 L1352.8,1234.1 L1355.0,1233.7 L1357.2,1233.2 L1359.4,1232.8 L1361.6,1232.4 L1363.8,1232.0 L1366.1,1231.5 L1368.3,1231.1 L1370.5,1230.7 L1372.7,1230.3 L1374.9,1229.9 L1377.1,1229.5 L1379.3,1229.1 L1381.5,1228.7 L1383.8,1228.3 L1386.0,1227.9 L1388.2,1227.5 L1390.4,1227.1 L1392.6,1226.7 L1394.8,1226.3 L1397.0,1226.0 L1399.3,1225.6 L1401.5,1225.2 L1403.7,1224.8 L1405.9,1224.5 L1408.1,1224.1 L1410.4,1223.7 L1412.6,1223.4 L1414.8,1223.0 L1417.0,1222.7 L1419.2,1222.3 L1421.5,1222.0 L1423.7,1221.6 L1425.9,1221.3 L1428.1,1220.9 L1430.4,1220.6 L1432.6,1220.3 L1434.8,1219.9 L1437.0,1219.6 L1439.3,1219.3 L1441.5,1218.9 L1443.7,1218.6 L1446.0,1218.3 L1448.2,1218.0 L1450.4,1217.7 L1452.6,1217.4 L1454.9,1217.1 L1457.1,1216.8 L1459.3,1216.5 L1461.6,1216.2 L1463.8,1215.9 L1466.0,1215.6 L1468.3,1215.3 L1470.5,1215.1 L1472.7,1214.8 L1475.0,1214.5 L1477.2,1214.2 L1479.4,1214.0 L1481.7,1213.7 L1483.9,1213.4 L1486.1,1213.2 L1488.4,1212.9 L1490.6,1212.7 L1492.8,1212.4 L1495.1,1212.2 L1497.3,1212.0 L1499.6,1211.7 L1501.8,1211.5 L1504.0,1211.3 L1506.3,1211.0 L1508.5,1210.8 L1510.7,1210.6 L1513.0,1210.4 L1515.2,1210.2 L1517.5,1210.0 L1519.7,1209.8 L1521.9,1209.6 L1524.2,1209.4 L1526.4,1209.2 L1528.7,1209.0 L1530.9,1208.8 L1533.2,1208.6 L1535.4,1208.4 L1537.6,1208.3 L1539.9,1208.1 L1542.1,1207.9 L1544.4,1207.8 L1546.6,1207.6 L1548.9,1207.5 L1551.1,1207.3 L1553.3,1207.2 L1555.6,1207.0 L1557.8,1206.9 L1560.1,1206.7 L1562.3,1206.6 L1564.6,1206.5 L1566.8,1206.4 L1569.1,1206.2 L1571.3,1206.1 L1573.5,1206.0 L1575.8,1205.9 L1578.0,1205.8 L1580.3,1205.7 L1582.5,1205.6 L1584.8,1205.5 L1587.0,1205.4 L1589.3,1205.4 L1591.5,1205.3 L1593.8,1205.2 L1596.0,1205.1 L1598.3,1205.1 L1600.5,1205.0 L1602.8,1205.0 L1605.0,1204.9 L1607.3,1204.8 L1609.5,1204.8 L1611.8,1204.8 L1614.0,1204.7 L1616.3,1204.7 L1618.5,1204.7 L1620.7,1204.6 L1623.0,1204.6 L1625.2,1204.6 L1627.5,1204.6 L1629.7,1204.6 L1632.0,1204.6 L1634.2,1204.6 L1636.5,1204.6 L1638.7,1204.6 L1641.0,1204.6"/>
<path stroke="#98008e" d="M526.5,1192.5 L539.9,1188.7 L549.2,1192.3 L561.6,1197.5 L577.2,1202.1 L592.7,1207.3 L603.1,1212.0 L623.8,1213.0 L634.2,1218.7 L644.5,1221.8 L670.4,1221.8 L686.0,1224.9 L706.7,1228.0 L722.3,1231.1 L727.4,1231.7 L736.1,1226.3 L740.0,1229.1 L750.4,1230.7 L758.7,1233.8 L771.1,1231.2 L791.9,1229.1 L812.6,1228.6 L826.1,1222.9 L833.3,1227.0 L843.7,1223.4 L859.3,1217.2 L874.8,1215.6 L892.2,1211.0 L909.4,1204.1 L926.7,1199.5 L938.2,1195.0 L950.0,1188.1 L970.7,1177.8 L991.5,1164.3 L1012.2,1152.9 L1032.9,1140.5 L1053.6,1131.1 L1074.4,1118.7 L1095.1,1111.5 L1115.8,1105.2 L1136.5,1101.1 L1152.1,1098.0 L1162.4,1102.1 L1173.2,1096.7 L1190.3,1099.4 L1199.6,1096.7 L1226.0,1099.4 L1239.2,1094.7 L1265.5,1094.1 L1278.7,1090.1 L1298.5,1089.5 L1318.3,1081.6 L1338.1,1078.3 L1357.9,1073.0 L1384.3,1065.1 L1410.7,1057.8 L1430.0,1052.2 L1450.7,1046.0 L1471.5,1038.7 L1492.2,1033.5 L1512.9,1029.4 L1533.6,1024.2 L1554.4,1019.5 L1575.1,1015.9 L1595.8,1012.3 L1616.5,1009.7 L1637.3,1006.6 L1655.0,1004.6 L1688.2,1002.0 L1710.3,999.1 L1725.8,1002.7 L1743.5,997.6 L1754.6,1003.1 L1770.1,997.6 L1787.8,1000.5 L1809.9,995.4 L1827.6,1000.9 L1843.1,995.4 L1860.9,993.2 L1871.9,998.7 L1887.4,993.2 L1916.2,989.8 L1938.3,993.2 L1953.8,986.5 L1969.5,982.5"/>
<path stroke="#ff00ff" d="M526.5,1034.0 L537.8,1031.6 L544.0,1034.7 L554.4,1043.5 L566.8,1048.2 L582.4,1054.4 L597.9,1061.6 L608.3,1067.8 L629.0,1071.5 L637.3,1076.7 L649.7,1073.5 L665.3,1077.2 L680.8,1080.3 L701.5,1082.9 L707.7,1086.5 L711.9,1082.4 L725.0,1081.8 L739.5,1086.5 L750.9,1083.9 L761.3,1086.0 L776.8,1083.9 L802.7,1083.9 L813.1,1080.8 L823.4,1078.7 L833.8,1083.9 L844.2,1078.7 L859.7,1073.5 L880.4,1071.5 L882.9,1070.6 L885.3,1069.7 L887.8,1068.8 L890.3,1067.9 L892.7,1066.9 L895.1,1065.9 L897.5,1064.8 L899.9,1063.8 L902.3,1062.7 L904.6,1061.6 L907.0,1060.4 L909.3,1059.2 L911.6,1058.0 L913.9,1056.8 L916.2,1055.6 L918.5,1054.3 L920.8,1053.0 L923.0,1051.7 L925.2,1050.4 L927.5,1049.0 L929.7,1047.6 L931.9,1046.2 L934.1,1044.8 L936.3,1043.4 L938.4,1041.9 L940.6,1040.4 L942.7,1039.0 L944.9,1037.4 L947.0,1035.9 L949.1,1034.4 L951.2,1032.8 L953.3,1031.3 L955.4,1029.7 L957.5,1028.1 L959.5,1026.5 L961.6,1024.8 L963.6,1023.2 L965.6,1021.5 L967.7,1019.9 L969.7,1018.2 L971.7,1016.5 L973.7,1014.8 L975.6,1013.1 L977.6,1011.4 L979.5,1009.6 L981.4,1007.8 L983.4,1006.1 L985.2,1004.3 L987.1,1002.5 L989.0,1000.6 L990.8,998.8 L992.6,996.9 L994.4,995.0 L996.2,993.2 L997.9,991.2 L999.7,989.3 L1001.4,987.4 L1003.1,985.4 L1004.7,983.4 L1006.4,981.4 L1008.0,979.4 L1009.6,977.4 L1011.2,975.3 L1012.8,973.3 L1014.3,971.2 L1015.9,969.1 L1017.4,967.0 L1018.9,964.9 L1020.4,962.8 L1021.9,960.7 L1023.4,958.6 L1024.9,956.4 L1026.4,954.3 L1027.9,952.2 L1029.3,950.0 L1030.8,947.8 L1032.2,945.7 L1033.6,943.5 L1035.0,941.3 L1036.5,939.1 L1037.9,936.9 L1039.3,934.7 L1040.7,932.6 L1042.1,930.3 L1043.4,928.1 L1044.8,925.9 L1046.2,923.7 L1047.6,921.5 L1049.0,919.3 L1050.3,917.1 L1051.7,914.9 L1053.1,912.6 L1054.4,910.4 L1055.8,908.2 L1057.1,906.0 L1058.4,903.7 L1059.8,901.5 L1061.1,899.2 L1062.4,897.0 L1063.7,894.7 L1065.0,892.5 L1066.3,890.2 L1067.6,887.9 L1068.9,885.6 L1070.1,883.4 L1071.4,881.1 L1072.6,878.8 L1073.9,876.5 L1075.1,874.2 L1076.4,871.9 L1077.6,869.6 L1078.8,867.3 L1080.1,865.0 L1081.3,862.7 L1082.5,860.4 L1083.8,858.1 L1085.0,855.8 L1086.2,853.5 L1087.5,851.2 L1088.7,848.9 L1090.0,846.6 L1091.3,844.3 L1092.5,842.1 L1093.8,839.8 L1095.1,837.5 L1096.4,835.3 L1097.7,833.0 L1099.0,830.8 L1100.4,828.5 L1101.7,826.3 L1103.1,824.1 L1104.5,821.9 L1105.9,819.7 L1107.3,817.6 L1108.7,815.4 L1110.2,813.2 L1111.6,811.1 L1113.1,809.0 L1114.6,806.9 L1116.2,804.8 L1117.7,802.7 L1119.3,800.6 L1120.9,798.6 L1122.6,796.6 L1124.2,794.6 L1125.9,792.6 L1127.6,790.6 L1129.3,788.6 L1131.0,786.7 L1132.7,784.7 L1134.5,782.8 L1136.3,780.9 L1138.1,779.0 L1139.9,777.1 L1141.7,775.3 L1143.6,773.4 L1145.4,771.6 L1147.3,769.8 L1149.2,768.0 L1151.1,766.2 L1153.0,764.5 L1155.0,762.7 L1157.0,761.0 L1159.0,759.4 L1161.0,757.7 L1163.1,756.1 L1165.2,754.5 L1167.3,753.0 L1169.5,751.4 L1171.7,750.0 L1173.9,748.5 L1176.1,747.1 L1178.4,745.8 L1180.7,744.5 L1183.0,743.3 L1185.3,742.1 L1187.7,740.9 L1190.0,739.8 L1192.4,738.8 L1194.9,737.9 L1197.3,737.0 L1199.8,736.1 L1202.3,735.4 L1204.8,734.7 L1207.3,734.1 L1209.9,733.5 L1212.4,733.1 L1215.0,732.8 L1217.5,732.6 L1220.1,732.4 L1222.6,732.4 L1225.2,732.6 L1227.7,732.8 L1230.2,733.2 L1232.8,733.7 L1235.3,734.4 L1237.7,735.2 L1240.2,736.2 L1242.6,737.3 L1242.2,738.1 L1260.6,738.1 L1279.0,742.7 L1293.8,757.4 L1310.1,757.8 L1324.3,762.5 L1333.7,773.1 L1347.8,782.5 L1371.4,783.7 L1378.4,787.2 L1386.7,766.0 L1394.9,781.3 L1411.4,782.5 L1423.2,787.2 L1431.4,774.3 L1447.9,777.8 L1456.2,771.9 L1479.7,767.2 L1510.3,762.5 L1526.8,756.6 L1536.2,746.0 L1555.1,736.6 L1564.5,741.3 L1590.4,716.6 L1600.0,713.4 L1617.4,704.6 L1627.9,699.4 L1636.6,689.0 L1645.3,695.9 L1654.0,692.5 L1661.0,677.6 L1671.5,681.1 L1687.1,669.8 L1697.6,657.6 L1713.3,651.5 L1730.7,643.7 L1742.9,640.2 L1749.9,632.3 L1765.6,629.7 L1774.3,627.1 L1779.5,631.5 L1788.2,626.2 L1796.9,619.3 L1809.1,621.0 L1817.8,624.5 L1830.0,620.1 L1844.0,618.4 L1857.9,615.8 L1870.1,615.8 L1878.8,611.4 L1896.3,609.7 L1913.7,606.2 L1931.1,601.8 L1948.6,596.6 L1970.0,593.5"/>
</g>
<g fill="#000">
<rect x="286.3" y="46.5" width="1803.9" height="14"/>
<rect x="271.2" y="1486.5" width="1819" height="14"/>
<rect x="293" y="46.5" width="13.8" height="1460.3"/>
<rect x="2076" y="46.5" width="14.2" height="1460.4"/>
<rect x="271.2" y="1486.5" width="22" height="14"/>
<rect x="271.2" y="1074.5" width="22" height="14"/>
<rect x="271.2" y="664.5" width="22" height="14"/>
<rect x="271.2" y="251.5" width="22" height="14"/>
<rect x="286.4" y="1280.7" width="7" height="13.6"/>
<rect x="286.4" y="869.7" width="7" height="13.6"/>
<rect x="286.4" y="458.2" width="7" height="13.6"/>
<rect x="514.6" y="1500" width="14.2" height="21.8"/>
<rect x="960.2" y="1500" width="14.2" height="21.8"/>
<rect x="1405.9" y="1500" width="14.2" height="21.8"/>
<rect x="1853.9" y="1500" width="14.2" height="21.8"/>
<rect x="738.4" y="1500" width="14.2" height="7.5"/>
<rect x="1184.4" y="1500" width="14.2" height="7.5"/>
<rect x="1629.7" y="1500" width="14.2" height="7.5"/>
</g>
<g font-family="Liberation Sans, Arial, sans-serif" font-size="61" fill="#000">
<text transform="translate(251,1510.8) scale(1,1.04)" text-anchor="end">0.0</text>
<text transform="translate(251,1098.8) scale(1,1.04)" text-anchor="end">0.5</text>
<text transform="translate(251,688.8) scale(1,1.04)" text-anchor="end">1.0</text>
<text transform="translate(251,275.8) scale(1,1.04)" text-anchor="end">1.5</text>
<text transform="translate(520.7,1586.8) scale(1,1.04)" text-anchor="middle">0.0</text>
<text transform="translate(966.3,1586.8) scale(1,1.04)" text-anchor="middle">0.2</text>
<text transform="translate(1412.0,1586.8) scale(1,1.04)" text-anchor="middle">0.4</text>
<text transform="translate(1860.0,1586.8) scale(1,1.04)" text-anchor="middle">0.6</text>
</g>
<g font-family="Liberation Sans, Arial, sans-serif" font-size="75" fill="#000">
<text transform="translate(988.9,1701.5) scale(0.9943,1)">Potential / V</text>
<text transform="translate(81.6,934) rotate(-90) scale(0.995,1)">Current / μA</text>
<text x="1048" y="165.5">b</text>
<text x="1168.8" y="939.5">c</text>
<text x="1704" y="992">d</text>
<text transform="translate(1780.6,613.6) scale(1.05,1)" font-size="72">e</text>
</g>
<text transform="translate(1112.2,1262.3) scale(0.9,1)" font-family="Liberation Sans, Arial, sans-serif" font-size="60" fill="#000">a</text>
</svg>
</body></html>
